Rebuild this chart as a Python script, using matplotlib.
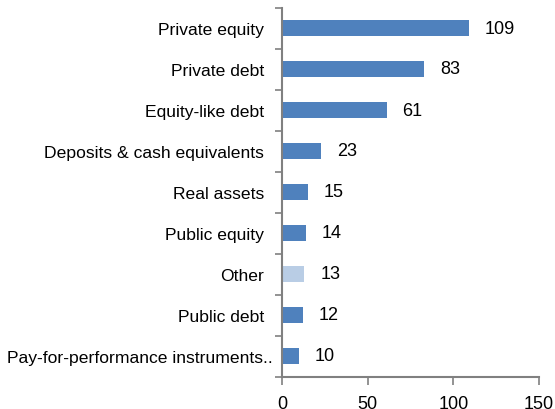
import matplotlib
matplotlib.use("Agg")
import matplotlib.pyplot as plt
import matplotlib.transforms as mtransforms
import numpy as np

categories = ["Private equity", "Private debt", "Equity-like debt",
              "Deposits & cash equivalents", "Real assets", "Public equity",
              "Other", "Public debt", "Pay-for-performance instruments.."]
values = [109, 83, 61, 23, 15, 14, 13, 12, 10]
highlight = "Other"
xticks = [0, 50, 100, 150]

plt.rcParams['font.family'] = ['Liberation Sans', 'DejaVu Sans']

fig = plt.figure(figsize=(5.55, 4.10), dpi=100)
ax = fig.add_axes([282/555, 1 - 377.5/410, 257/555, 369/410])

n = len(categories)
ypos = np.arange(n)
colors = ["#b9cde5" if c == highlight else "#4f81bd" for c in categories]
ax.barh(ypos, values, height=0.4, color=colors)
ax.set_ylim(n - 0.5, -0.5)
ax.set_xlim(0, 150)

for y, v in zip(ypos, values):
    ax.annotate(str(v), (v, y), xytext=(11.5, 0), textcoords="offset points",
                va="center", ha="left", fontsize=13, color="black")

ax.set_yticks(ypos)
ax.set_yticklabels(categories, fontsize=12.6)
ax.tick_params(axis="y", which="major", length=0, pad=13)
ax.set_yticks(np.arange(n + 1) - 0.5, minor=True)
ax.tick_params(axis="y", which="minor", length=5, width=1.2, color="#808080", direction="out")

# last label overflows slightly to the right in the reference
lbl = ax.get_yticklabels()[-1]
lbl.set_transform(lbl.get_transform() + mtransforms.ScaledTranslation(9/100, 0, fig.dpi_scale_trans))

ax.set_xticks(xticks)
ax.set_xticklabels([str(t) for t in xticks], fontsize=13)
ax.tick_params(axis="x", length=6, width=1.2, color="#808080", direction="out", pad=7)

for s in ["top", "right"]:
    ax.spines[s].set_visible(False)
for s in ["left", "bottom"]:
    ax.spines[s].set_color("#808080")
    ax.spines[s].set_linewidth(1.5)

fig.savefig("out.png", dpi=100)
